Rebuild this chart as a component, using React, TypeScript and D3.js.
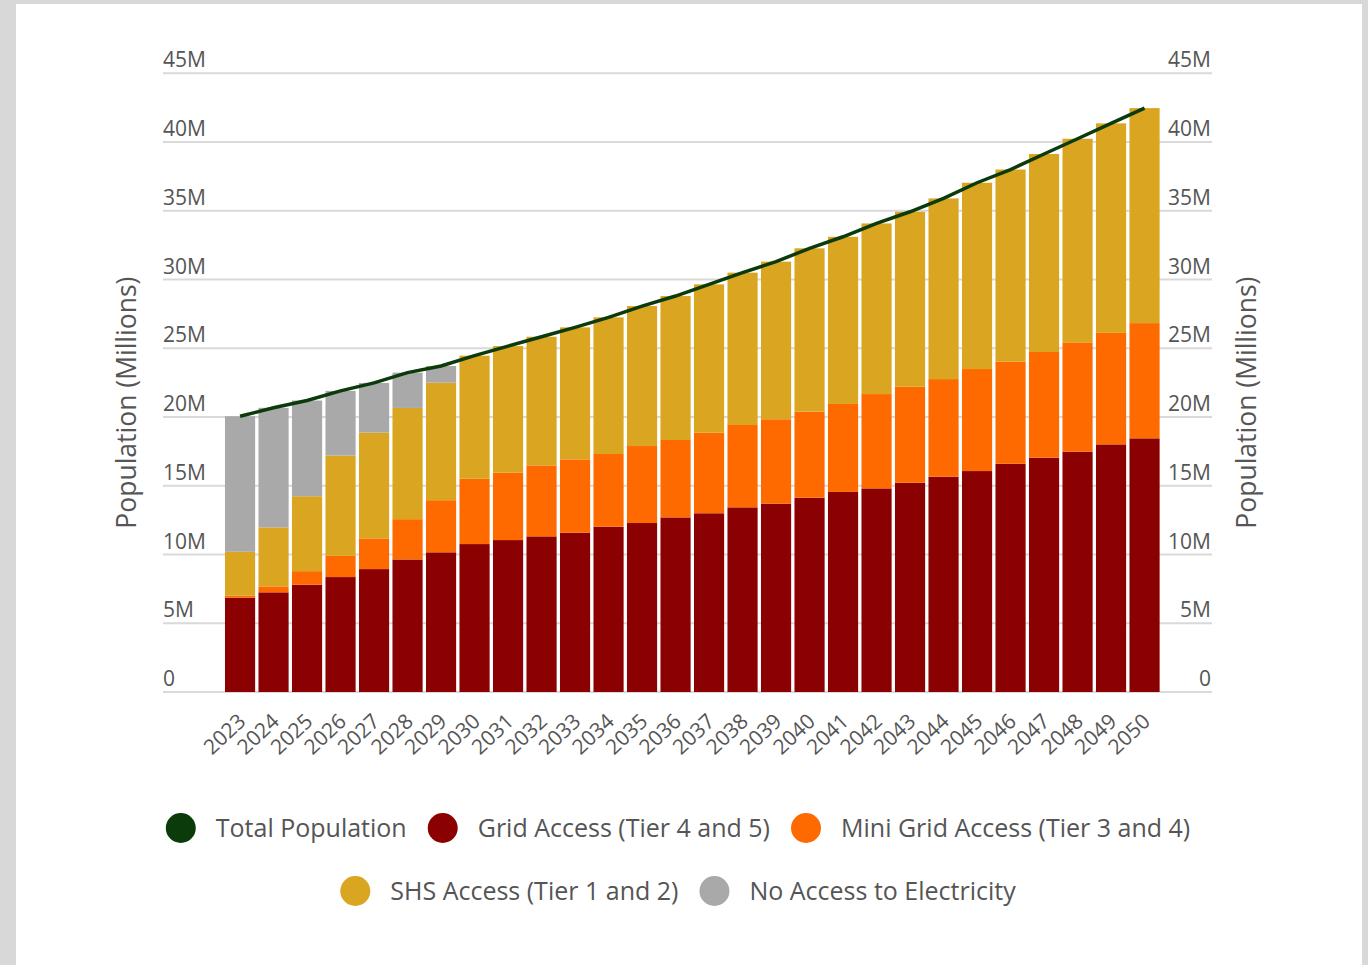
import React, { useEffect, useRef } from 'react';
import * as d3 from 'd3';

// values, in millions
const years = [
  '2023', '2024', '2025', '2026', '2027', '2028', '2029', '2030', '2031', '2032',
  '2033', '2034', '2035', '2036', '2037', '2038', '2039', '2040', '2041', '2042',
  '2043', '2044', '2045', '2046', '2047', '2048', '2049', '2050',
];
const gridAccess = [
  6.86, 7.25, 7.8, 8.36, 8.94, 9.64, 10.16, 10.76, 11.05, 11.32,
  11.59, 12.02, 12.29, 12.7, 13.0, 13.43, 13.7, 14.13, 14.55, 14.81,
  15.22, 15.66, 16.07, 16.6, 17.04, 17.48, 18.01, 18.45,
];
const miniGridAccess = [
  0.14, 0.43, 0.99, 1.54, 2.23, 2.93, 3.79, 4.75, 4.9, 5.16,
  5.33, 5.29, 5.6, 5.63, 5.86, 5.99, 6.14, 6.26, 6.4, 6.86,
  6.98, 7.1, 7.42, 7.42, 7.69, 7.95, 8.11, 8.38,
];
const shsAccess = [
  3.2, 4.29, 5.45, 7.3, 7.7, 8.09, 8.55, 8.95, 9.21, 9.36,
  9.6, 9.94, 10.18, 10.47, 10.79, 11.08, 11.46, 11.88, 12.16, 12.41,
  12.73, 13.14, 13.55, 13.98, 14.4, 14.81, 15.24, 15.64,
];
const noAccess = [
  9.86, 8.7, 6.96, 4.7, 3.61, 2.57, 1.21, 0, 0, 0,
  0, 0, 0, 0, 0, 0, 0, 0, 0, 0,
  0, 0, 0, 0, 0, 0, 0, 0,
];
const totalPopulation = [
  20.06, 20.67, 21.2, 21.9, 22.48, 23.23, 23.71, 24.46, 25.16, 25.84,
  26.52, 27.25, 28.07, 28.8, 29.65, 30.5, 31.3, 32.27, 33.11, 34.08,
  34.93, 35.9, 37.04, 38.0, 39.13, 40.24, 41.36, 42.47,
];
const yTicks = [0, 5, 10, 15, 20, 25, 30, 35, 40, 45];

const seriesKeys = ['grid', 'mini', 'shs', 'none'];
const seriesColors = {
  total: '#0b3a0b',
  grid: '#8b0000',
  mini: '#ff6a00',
  shs: '#daa520',
  none: '#a9a9a9',
};
const legendRows = [
  [
    { key: 'total', label: 'Total Population' },
    { key: 'grid', label: 'Grid Access (Tier 4 and 5)' },
    { key: 'mini', label: 'Mini Grid Access (Tier 3 and 4)' },
  ],
  [
    { key: 'shs', label: 'SHS Access (Tier 1 and 2)' },
    { key: 'none', label: 'No Access to Electricity' },
  ],
];

const W = 1368;
const H = 965;
const FONT = "'Open Sans', 'Noto Sans', sans-serif";
const TEXT = '#555555';

export default function App() {
  const svgRef = useRef<SVGSVGElement | null>(null);

  useEffect(() => {
    document.body.style.margin = '0';
    const svg = d3.select(svgRef.current);
    svg.selectAll('*').remove();

    // grey frame with white card
    svg.append('rect').attr('width', W).attr('height', H).attr('fill', '#d8d8d8');
    svg.append('rect').attr('x', 16).attr('y', 4).attr('width', 1346).attr('height', H).attr('fill', '#ffffff');

    const table = years.map((year, i) => ({
      year,
      grid: gridAccess[i],
      mini: miniGridAccess[i],
      shs: shsAccess[i],
      none: noAccess[i],
    }));

    const x = d3.scaleBand().domain(years).range([223.3, 1161.3]).paddingInner(0.1).paddingOuter(0.05);
    const y = d3.scaleLinear().domain([0, 45]).range([692, 73.3]);
    const gridLeft = 163;
    const gridRight = 1212;

    // gridlines + tick labels on both sides
    const ticks = svg.append('g');
    ticks.selectAll('line')
      .data(yTicks)
      .enter()
      .append('line')
      .attr('x1', gridLeft)
      .attr('x2', gridRight)
      .attr('y1', d => y(d))
      .attr('y2', d => y(d))
      .attr('stroke', '#d9d9d9')
      .attr('stroke-width', 2);

    const fmt = (d: number) => (d === 0 ? '0' : `${d}M`);
    ticks.selectAll('.tl')
      .data(yTicks)
      .enter()
      .append('text')
      .attr('class', 'tl')
      .attr('x', gridLeft)
      .attr('y', d => y(d) - 6)
      .attr('font-family', FONT)
      .attr('font-size', 21)
      .attr('fill', TEXT)
      .text(fmt);
    ticks.selectAll('.tr')
      .data(yTicks)
      .enter()
      .append('text')
      .attr('class', 'tr')
      .attr('x', gridRight - 1)
      .attr('y', d => y(d) - 6)
      .attr('text-anchor', 'end')
      .attr('font-family', FONT)
      .attr('font-size', 21)
      .attr('fill', TEXT)
      .text(fmt);

    // axis titles
    const midY = (y(0) + y(45)) / 2 + 20;
    svg.append('text')
      .attr('transform', `translate(136, ${midY}) rotate(-90)`)
      .attr('text-anchor', 'middle')
      .attr('font-family', FONT)
      .attr('font-size', 26.5)
      .attr('fill', TEXT)
      .text('Population (Millions)');
    svg.append('text')
      .attr('transform', `translate(1256, ${midY}) rotate(-90)`)
      .attr('text-anchor', 'middle')
      .attr('font-family', FONT)
      .attr('font-size', 26.5)
      .attr('fill', TEXT)
      .text('Population (Millions)');

    // stacked bars
    const stacked = d3.stack<any>().keys(seriesKeys)(table);
    svg.append('g')
      .selectAll('g')
      .data(stacked)
      .enter()
      .append('g')
      .attr('fill', d => seriesColors[d.key])
      .selectAll('rect')
      .data(d => d)
      .enter()
      .append('rect')
      .attr('x', d => x(d.data.year)!)
      .attr('width', x.bandwidth())
      .attr('y', d => y(d[1]))
      .attr('height', d => y(d[0]) - y(d[1]));

    // total population line
    const line = d3.line<number>()
      .x((_, i) => x(years[i])! + x.bandwidth() / 2)
      .y(d => y(d));
    svg.append('path')
      .datum(totalPopulation)
      .attr('d', line)
      .attr('fill', 'none')
      .attr('stroke', seriesColors.total)
      .attr('stroke-width', 3.5);

    // x labels
    svg.append('g')
      .selectAll('text')
      .data(years)
      .enter()
      .append('text')
      .attr('transform', d => `translate(${x(d)! + x.bandwidth() / 2 + 7}, 723) rotate(-43)`)
      .attr('text-anchor', 'end')
      .attr('font-family', FONT)
      .attr('font-size', 21)
      .attr('fill', TEXT)
      .text(d => d);

    // legend, each row centred
    const rowY = [828, 891];
    const r = 15;
    legendRows.forEach((row, ri) => {
      const g = svg.append('g');
      let cursor = 0;
      row.forEach((item, ii) => {
        if (ii > 0) cursor += 21;
        g.append('circle')
          .attr('cx', cursor + r)
          .attr('cy', rowY[ri])
          .attr('r', r)
          .attr('fill', seriesColors[item.key]);
        const t = g.append('text')
          .attr('x', cursor + 2 * r + 20)
          .attr('y', rowY[ri] + 9)
          .attr('font-family', FONT)
          .attr('font-size', 25)
          .attr('fill', TEXT)
          .text(item.label);
        const w = (t.node() as SVGTextElement).getComputedTextLength();
        cursor += 2 * r + 20 + w;
      });
      g.attr('transform', `translate(${678 - cursor / 2}, 0)`);
    });
  }, []);

  return (
    <svg
      ref={svgRef}
      width={W}
      height={H}
      style={{ position: 'absolute', left: 0, top: 0, display: 'block' }}
    />
  );
}
